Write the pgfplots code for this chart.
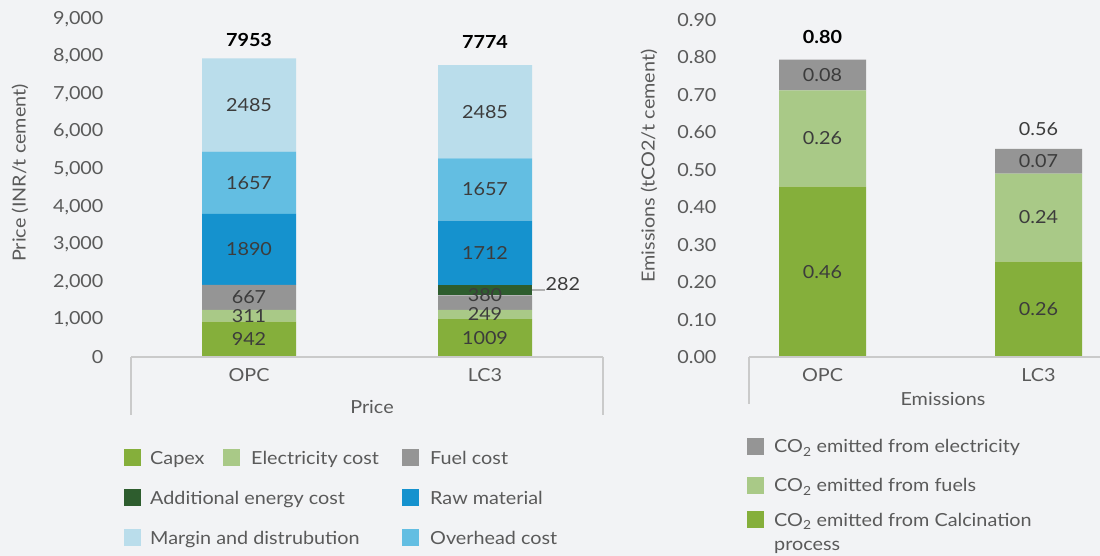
\documentclass[border=0pt]{standalone}
\usepackage{fontspec}
\setmainfont{Lato}[FakeStretch=1.1]
\usepackage{pgfplots}
\usepackage{pgfplotstable}
\pgfplotsset{compat=1.18}
\definecolor{bgc}{HTML}{F2F3F5}
\definecolor{capexc}{HTML}{85AF3B}
\definecolor{elecc}{HTML}{A9C987}
\definecolor{fuelc}{HTML}{959595}
\definecolor{addlc}{HTML}{2E5D2E}
\definecolor{rawc}{HTML}{1592CE}
\definecolor{overc}{HTML}{63BEE2}
\definecolor{marginc}{HTML}{BADDEB}
\definecolor{tickc}{HTML}{5A5A5A}
\definecolor{labc}{HTML}{3C3C3C}
\definecolor{axc}{HTML}{CACACA}
\newcommand\fs{\fontsize{18}{21.6}\selectfont}

\pgfplotstableread{
x capex elec fuel addl raw over margin
0 942 311 667 0 1890 1657 2485
1 1009 249 380 282 1712 1657 2485
}\pricedata
\pgfplotstableread{
x y label
0 471 942
0 1097.5 311
0 1586.5 667
0 2865 1890
0 4638.5 1657
0 6709.5 2485
1 504.5 1009
1 1133.5 249
1 1650 380
1 2776 1712
1 4460.5 1657
1 6531.5 2485
1.33 1944 282
}\pricelabels
\pgfplotstableread{
x y label
0 8440 7953
1 8390 7774
}\pricetotals
\pgfplotstableread{
x calc fuels elec
0 0.455 0.257 0.082
1 0.255 0.235 0.066
}\emdata
\pgfplotstableread{
x y label
0 0.2275 0.46
0 0.5835 0.26
0 0.753 0.08
1 0.1275 0.26
1 0.3725 0.24
1 0.523 0.07
1 0.6095 0.56
}\emlabels
\pgfplotstableread{
x y label
0 0.8546 0.80
}\emtotals

\pgfplotsset{
  common/.style={
    scale only axis, anchor=south west, clip=false,
    major tick length=0pt,
    axis line style={draw=none},
    tick label style={font=\fs, text=tickc},
    /pgf/number format/assume math mode=true,
    scaled y ticks=false,
    xtick={0,1}, xticklabels={OPC,LC3},
    xticklabel style={yshift=-8pt},
  },
  labaxis/.style={
    scale only axis, anchor=south west, clip=false, hide axis,
  },
  labs/.style={draw=none, mark=none, nodes near coords, point meta=explicit symbolic,
    nodes near coords align={anchor=center},
    every node near coord/.append style={font=\fs, text=labc, anchor=center}},
}

\begin{document}
\begin{tikzpicture}
\useasboundingbox (0pt,0pt) rectangle (1100pt,556pt);
\fill[bgc] (0pt,0pt) rectangle (1100pt,556pt);

% ---------- Price ----------
\begin{axis}[common, at={(131pt,199pt)}, width=472pt, height=338pt,
  xmin=-0.5, xmax=1.5, ymin=0, ymax=9000,
  ybar stacked, bar width=94pt,
  ytick={0,1000,2000,3000,4000,5000,6000,7000,8000,9000},
  yticklabel style={xshift=-24pt},
]
\addplot[fill=capexc, draw=none] table[x=x,y=capex] {\pricedata};
\addplot[fill=elecc, draw=none] table[x=x,y=elec] {\pricedata};
\addplot[fill=fuelc, draw=none] table[x=x,y=fuel] {\pricedata};
\addplot[fill=addlc, draw=none] table[x=x,y=addl] {\pricedata};
\addplot[fill=rawc, draw=none] table[x=x,y=raw] {\pricedata};
\addplot[fill=overc, draw=none] table[x=x,y=over] {\pricedata};
\addplot[fill=marginc, draw=none] table[x=x,y=margin] {\pricedata};
\end{axis}
\begin{axis}[labaxis, at={(131pt,199pt)}, width=472pt, height=338pt,
  xmin=-0.5, xmax=1.5, ymin=0, ymax=9000]
\addplot[labs] table[x=x,y=y,meta=label] {\pricelabels};
\addplot[labs, every node near coord/.append style={font=\fs\bfseries, text=black}] table[x=x,y=y,meta=label] {\pricetotals};
\draw[color=gray!60, line width=1.5pt] (axis cs:1.2,1779) -- (axis cs:1.256,1779);
\end{axis}

% ---------- Emissions ----------
\begin{axis}[common, at={(749pt,199pt)}, width=349pt, height=337pt,
  xmin=-0.3403, xmax=1.2755, ymin=0, ymax=0.9,
  ybar stacked, bar width=87pt,
  ytick={0,0.1,0.2,0.3,0.4,0.5,0.6,0.7,0.8,0.9},
  yticklabel style={xshift=-29pt, /pgf/number format/.cd, fixed, fixed zerofill, precision=2},
]
\addplot[fill=capexc, draw=none] table[x=x,y=calc] {\emdata};
\addplot[fill=elecc, draw=none] table[x=x,y=fuels] {\emdata};
\addplot[fill=fuelc, draw=none] table[x=x,y=elec] {\emdata};
\end{axis}
\begin{axis}[labaxis, at={(749pt,199pt)}, width=349pt, height=337pt,
  xmin=-0.3403, xmax=1.2755, ymin=0, ymax=0.9]
\addplot[labs] table[x=x,y=y,meta=label] {\emlabels};
\addplot[labs, every node near coord/.append style={font=\fs\bfseries, text=black}] table[x=x,y=y,meta=label] {\emtotals};
\end{axis}

% ---------- axis frames ----------
\draw[axc, line width=2pt] (131pt,199pt) -- (603pt,199pt);
\draw[axc, line width=2pt] (131pt,199pt) -- (131pt,141pt);
\draw[axc, line width=2pt] (603pt,199pt) -- (603pt,141pt);
\draw[axc, line width=2pt] (749pt,199pt) -- (1100pt,199pt);
\draw[axc, line width=2pt] (749pt,199pt) -- (749pt,152pt);

\node[font=\fs, text=tickc] at (372pt,149pt) {Price};
\node[font=\fs, text=tickc] at (943pt,157pt) {Emissions};
\node[font=\fs, text=tickc, rotate=90] at (20pt,383pt) {Price (INR/t cement)};
\node[font=\fs, text=tickc, rotate=90] at (649pt,390pt) {Emissions (tCO2/t cement)};

% ---------- legends ----------
\def\sq#1#2#3{\fill[#1] (#2pt-8.5pt,#3pt-8.5pt) rectangle (#2pt+8.5pt,#3pt+8.5pt);}
\def\lt#1#2#3{\node[font=\fs, text=tickc, anchor=base west, inner sep=0pt] at (#1pt,#2pt-6.5pt) {#3};}
\sq{capexc}{132.5}{98}  \lt{150}{98}{Capex}
\sq{elecc}{231.5}{98}   \lt{251}{98}{Electricity cost}
\sq{fuelc}{410.5}{98}   \lt{430}{98}{Fuel cost}
\sq{addlc}{132.5}{58}   \lt{150}{58}{Additional energy cost}
\sq{rawc}{410.5}{58}    \lt{430}{58}{Raw material}
\sq{marginc}{132.5}{18} \lt{150}{18}{Margin and distrubution}
\sq{overc}{410.5}{18}   \lt{430}{18}{Overhead cost}

\sq{fuelc}{755.5}{109.5} \lt{774}{109.5}{CO\textsubscript{2} emitted from electricity}
\sq{elecc}{755.5}{70.5}  \lt{774}{70.5}{CO\textsubscript{2} emitted from fuels}
\sq{capexc}{755.5}{36}   \lt{774}{36}{CO\textsubscript{2} emitted from Calcination}
\lt{774}{12}{process}
\end{tikzpicture}
\end{document}
